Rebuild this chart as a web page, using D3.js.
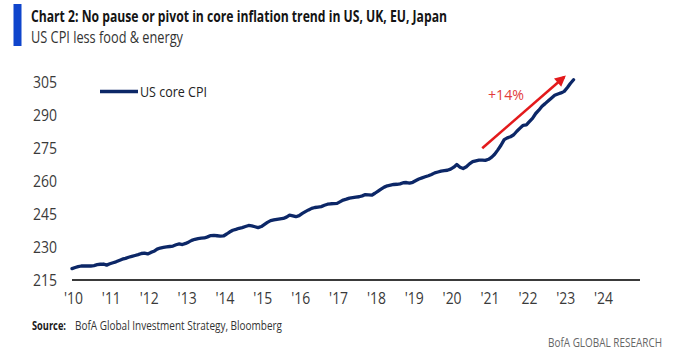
<!DOCTYPE html>
<html>
<head>
<meta charset="utf-8">
<script src="https://cdn.jsdelivr.net/npm/d3@7"></script>
<style>
  html, body { margin: 0; padding: 0; background: #fff; }
  svg { display: block; }
  text { font-family: "Liberation Sans Narrow", "Open Sans", "Noto Sans", sans-serif; }
</style>
</head>
<body>
<svg id="chart" width="679" height="356"></svg>
<script>
// ---- Data ----
const startMonth = "2010-01";
// US core CPI (CPI less food & energy), monthly, Jan 2010 .. Apr 2023
const coreCpi = [
  220.1, 220.6, 221.0, 221.3, 221.3, 221.3, 221.3, 221.5, 221.9, 222.1, 222.2, 221.7, // 2010
  222.3, 222.8, 223.2, 223.8, 224.4, 224.8, 225.3, 225.7, 226.1, 226.5, 227.0, 227.2, // 2011
  226.8, 227.5, 228.0, 229.0, 229.5, 229.8, 230.0, 230.2, 230.4, 231.0, 231.4, 231.1, // 2012
  231.6, 232.3, 233.0, 233.5, 233.8, 234.0, 234.1, 234.6, 235.2, 235.3, 235.1, 234.9, // 2013
  235.0, 235.9, 236.8, 237.6, 238.0, 238.5, 238.8, 239.3, 239.8, 239.6, 239.2, 238.8, // 2014
  239.3, 240.3, 241.2, 242.0, 242.3, 242.6, 242.8, 243.0, 243.6, 244.5, 244.2, 243.8, // 2015
  244.3, 245.3, 246.1, 246.9, 247.6, 248.0, 248.2, 248.4, 249.0, 249.5, 249.7, 249.8, // 2016
  249.9, 250.7, 251.4, 251.8, 252.3, 252.5, 252.7, 252.9, 253.3, 253.9, 253.8, 253.6, // 2017
  254.5, 255.5, 256.4, 257.3, 257.9, 258.2, 258.5, 258.6, 258.8, 259.3, 259.4, 259.1, // 2018
  259.5, 260.3, 261.0, 261.5, 262.0, 262.5, 263.1, 263.8, 264.2, 264.6, 264.8, 265.0, // 2019
  265.5, 266.4, 267.6, 266.4, 265.8, 266.6, 267.9, 268.9, 269.3, 269.6, 269.6, 269.5, // 2020
  270.0, 271.0, 272.3, 274.3, 276.4, 279.0, 279.8, 280.3, 281.2, 282.8, 284.2, 285.5, // 2021
  285.7, 287.3, 288.7, 290.9, 292.4, 294.2, 295.4, 296.7, 298.0, 299.2, 299.8, 300.3, // 2022
  301.0, 302.8, 304.6, 306.3                                                          // 2023
];
const yTicks = [215, 230, 245, 260, 275, 290, 305];
const xTickYears = [2010, 2011, 2012, 2013, 2014, 2015, 2016, 2017, 2018, 2019, 2020, 2021, 2022, 2023, 2024];
const xDomainYears = [2010, 2025];
const seriesName = "US core CPI";
const arrowFrom = ["2020-11", 275.0];
const arrowTo = ["2023-01", 307.6];
const arrowLabel = "+14%";
const titleText = "Chart 2: No pause or pivot in core inflation trend in US, UK, EU, Japan";
const subtitleText = "US CPI less food & energy";
const sourceLabel = "Source:";
const sourceText = "BofA Global Investment Strategy, Bloomberg";
const brandText = "BofA GLOBAL RESEARCH";

// ---- Drawing ----
const svg = d3.select("#chart");
const parseMonth = d3.timeParse("%Y-%m");
const t0 = parseMonth(startMonth);
const series = coreCpi.map((v, i) => ({ date: d3.timeMonth.offset(t0, i), value: v }));

const x = d3.scaleTime()
  .domain([new Date(xDomainYears[0], 0, 1), new Date(xDomainYears[1], 0, 1)])
  .range([72, 640]);
const y = d3.scaleLinear().domain([215, 305]).range([279.8, 82.6]);

function fit(sel, w) {
  sel.attr("textLength", w).attr("lengthAdjust", "spacingAndGlyphs");
  return sel;
}

// Header
svg.append("rect").attr("x", 13.5).attr("y", 4).attr("width", 8).attr("height", 42).attr("fill", "#0f45cc");
fit(svg.append("text").attr("x", 31).attr("y", 21.8)
  .attr("font-size", 16.5).attr("font-weight", "bold").attr("fill", "#141414").text(titleText), 416);
fit(svg.append("text").attr("x", 31).attr("y", 43.3)
  .attr("font-size", 16).attr("fill", "#333").text(subtitleText), 152);

// Y axis labels
svg.append("g").selectAll("text").data(yTicks).join("text")
  .attr("x", 57).attr("y", d => y(d)).attr("dy", "0.36em")
  .attr("text-anchor", "end").attr("font-size", 16).attr("fill", "#3a3a3a")
  .text(d => d)
  .each(function() { fit(d3.select(this), 24); });

// X axis
const xAxis = d3.axisBottom(x)
  .tickValues(xTickYears.map(yr => new Date(yr, 0, 1)))
  .tickSize(0).tickPadding(0)
  .tickFormat(d => "'" + d3.timeFormat("%y")(d));
const gx = svg.append("g").attr("transform", "translate(0,280)").call(xAxis);
gx.select(".domain").attr("stroke", "#3a3a3a").attr("stroke-width", 2).attr("d", `M72,0H640`);
gx.selectAll(".tick text")
  .attr("y", 24).attr("dy", 0).attr("dx", 1)
  .attr("font-size", 15.5).attr("fill", "#3a3a3a")
  .attr("font-family", "\"Liberation Sans Narrow\", \"Open Sans\", sans-serif")
  .each(function() { fit(d3.select(this), 19); });

// Series line
const line = d3.line().x(d => x(d.date)).y(d => y(d.value));
svg.append("path").datum(series)
  .attr("fill", "none").attr("stroke", "#0c2767").attr("stroke-width", 3.3)
  .attr("stroke-linejoin", "round").attr("stroke-linecap", "round")
  .attr("d", line);

// Legend
svg.append("line").attr("x1", 100).attr("x2", 138).attr("y1", 91.5).attr("y2", 91.5)
  .attr("stroke", "#0c2767").attr("stroke-width", 3.3);
fit(svg.append("text").attr("x", 140).attr("y", 97)
  .attr("font-size", 15).attr("fill", "#222").text(seriesName), 67);

// Arrow annotation
svg.append("defs").append("marker")
  .attr("id", "arrowhead").attr("viewBox", "0 0 10 10").attr("refX", 8).attr("refY", 5)
  .attr("markerUnits", "userSpaceOnUse").attr("markerWidth", 12).attr("markerHeight", 11)
  .attr("orient", "auto")
  .append("path").attr("d", "M0,0 L10,5 L0,10 Z").attr("fill", "#e31a1c");
const ax1 = x(parseMonth(arrowFrom[0])), ay1 = y(arrowFrom[1]);
const ax2 = x(parseMonth(arrowTo[0])), ay2 = y(arrowTo[1]);
svg.append("line").attr("x1", ax1).attr("y1", ay1).attr("x2", ax2).attr("y2", ay2)
  .attr("stroke", "#e31a1c").attr("stroke-width", 2.6)
  .attr("marker-end", "url(#arrowhead)");
fit(svg.append("text").attr("x", 488).attr("y", 100)
  .attr("font-size", 15).attr("fill", "#e23b3b").text(arrowLabel), 36);

// Footer
fit(svg.append("text").attr("x", 32).attr("y", 330)
  .attr("font-size", 13).attr("font-weight", "bold").attr("fill", "#1a1a1a").text(sourceLabel), 34);
fit(svg.append("text").attr("x", 75).attr("y", 330)
  .attr("font-size", 13).attr("fill", "#333").text(sourceText), 207);
fit(svg.append("text").attr("x", 548).attr("y", 346.5)
  .attr("font-size", 12).attr("fill", "#666").text(brandText), 114);
</script>
</body>
</html>
